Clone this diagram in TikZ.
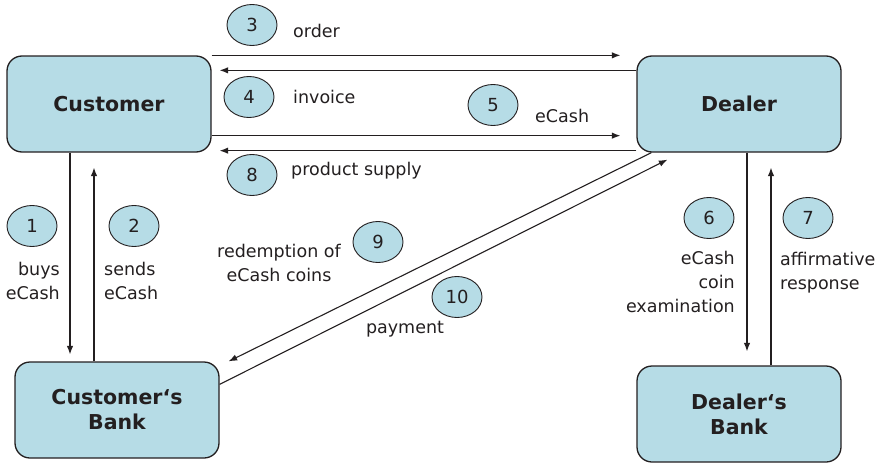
\documentclass[tikz,border=0pt]{standalone}
\usepackage{fontspec}
\setmainfont{DejaVu Sans}
\usetikzlibrary{shapes.geometric,arrows.meta}
\definecolor{boxblue}{RGB}{182,220,230}
\definecolor{ink}{RGB}{35,31,32}
\begin{document}
\begin{tikzpicture}[x=1pt,y=-1pt,
  box/.style={draw=ink, line width=1.3pt, fill=boxblue, rounded corners=15pt,
    minimum width=204pt, minimum height=96pt, inner sep=0pt,
    font=\fontsize{20.5}{25}\selectfont\bfseries, text=ink, align=center},
  num/.style={ellipse, draw=ink, line width=0.9pt, fill=boxblue,
    minimum width=50pt, minimum height=41pt, inner sep=0pt,
    font=\fontsize{18}{20}\selectfont, text=ink},
  lbl/.style={font=\fontsize{17.5}{24}\selectfont, text=ink, inner sep=0pt},
  arr/.style={draw=ink, line width=1.1pt, -{Latex[length=8.5pt,width=6.5pt]}}]
\useasboundingbox (0,0) rectangle (883,463);
% boxes
\node[box] (cust)  at (109,104) {Customer};
\node[box] (deal)  at (739,104) {Dealer};
\node[box] (cbank) at (117,410) {Customer‘s\\Bank};
\node[box] (dbank) at (739,414) {Dealer‘s\\Bank};
% horizontal connectors
\draw[arr] (cust.north east) -- ([xshift=-16pt]deal.north west);
\draw[arr] ([yshift=-15pt]deal.north west) -- ([yshift=-15pt,xshift=8pt]cust.north east);
\draw[arr] ([yshift=17pt]cust.south east) -- ([yshift=17pt,xshift=-16pt]deal.south west);
\draw[arr] ([yshift=2pt]deal.south west) -- ([yshift=2pt,xshift=8pt]cust.south east);
% vertical connectors
\coordinate (a1) at ([xshift=-39pt]cust.south);
\draw[arr, shorten >=7pt] (a1) -- (a1 |- cbank.north);
\coordinate (a2) at ([xshift=-23pt]cbank.north);
\draw[arr, shorten >=15pt] (a2) -- (a2 |- cust.south);
\coordinate (a6) at ([xshift=8pt]deal.south);
\draw[arr, shorten >=14pt] (a6) -- (a6 |- dbank.north);
\coordinate (a7) at ([xshift=32pt]dbank.north);
\draw[arr, shorten >=15pt] (a7) -- (a7 |- deal.south);
% diagonal connectors
\draw[arr] ([xshift=15pt]deal.south west) -- ([xshift=9pt]cbank.north east);
\draw[arr] ([yshift=-23pt]cbank.north east) -- ([xshift=31pt,yshift=-7pt]deal.south west);
% step numbers
\node[num] (n1)  at (32,226)  {1};
\node[num] (n2)  at (134,226) {2};
\node[num] (n3)  at (252,25)  {3};
\node[num] (n4)  at (249,97)  {4};
\node[num] (n5)  at (493,105) {5};
\node[num] (n6)  at (709,218) {6};
\node[num] (n7)  at (808,218) {7};
\node[num] (n8)  at (252,175) {8};
\node[num] (n9)  at (378,242) {9};
\node[num] (n10) at (457,297) {10};
% labels
\node[lbl, anchor=west] (l3) at (293,31) {order};
\node[lbl, anchor=west] (l4) at (293,97) {invoice};
\node[lbl, anchor=west] (l5) at (535,116) {eCash};
\node[lbl, anchor=west] (l8) at (291,171) {product supply};
\node[lbl, anchor=east, align=right] (l1) at (60,281) {buys\\eCash};
\node[lbl, anchor=west, align=left] (l2) at (104,281) {sends\\eCash};
\node[lbl, align=center] (l9) at (279,263) {redemption of\\eCash coins};
\node[lbl] (l10) at (405,329) {payment};
\node[lbl, anchor=east, align=right] (l6) at (735,282) {eCash\\coin\\examination};
\node[lbl, anchor=west, align=left] (l7) at (780,273) {affirmative\\response};
\end{tikzpicture}
\end{document}
